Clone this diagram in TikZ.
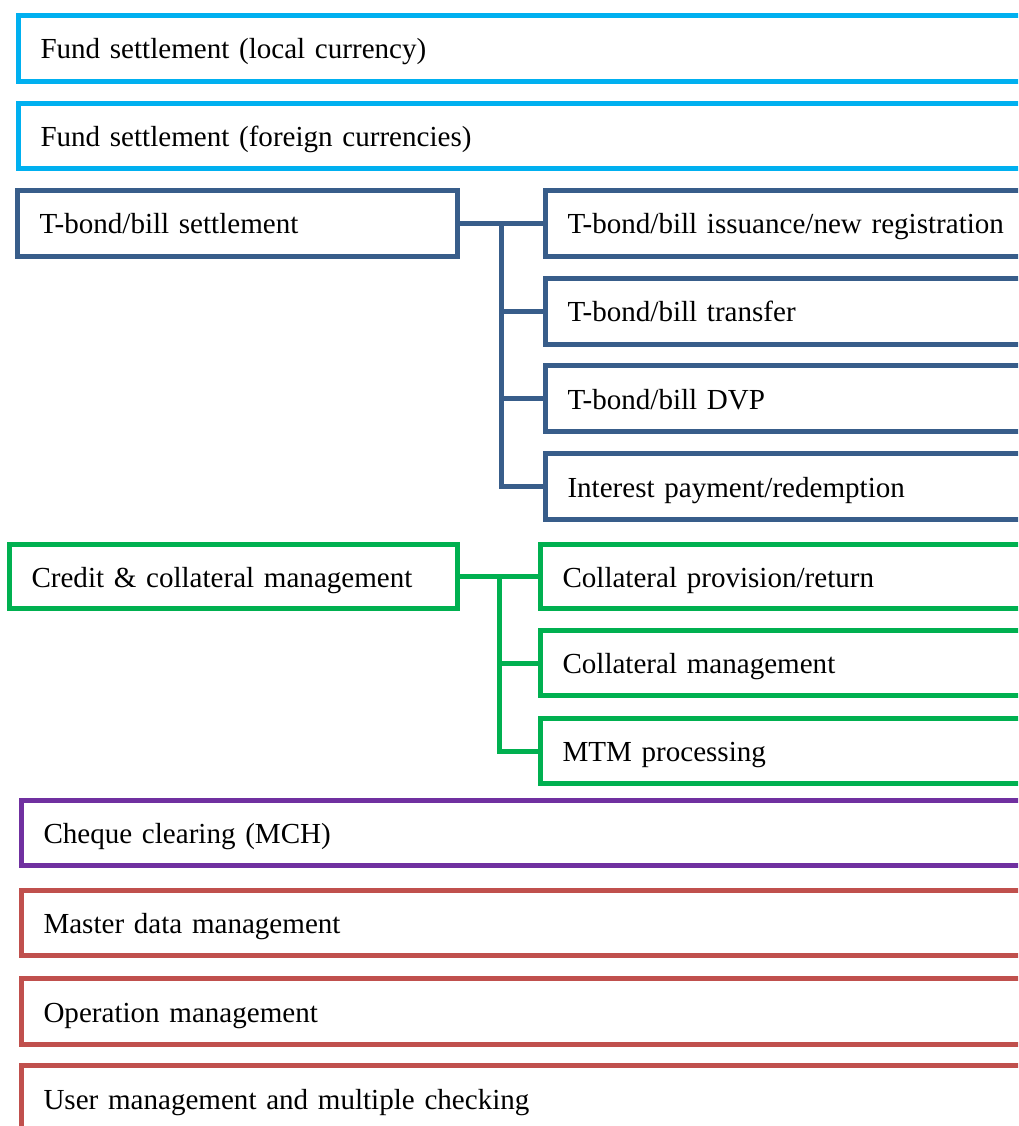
\documentclass[tikz,border=0pt]{standalone}
\usepackage{fontspec}
\setmainfont{Liberation Serif}
\definecolor{skyblue}{HTML}{00B0F0}
\definecolor{steelblue}{HTML}{385D8A}
\definecolor{leafgreen}{HTML}{00B050}
\definecolor{violet}{HTML}{7030A0}
\definecolor{brick}{HTML}{C0504D}
\begin{document}
\begin{tikzpicture}[x=0.75pt,y=-0.75pt,
  cell/.style={draw, rectangle, line width=3.75pt, outer sep=0pt,
    inner xsep=16.5pt, inner ysep=0pt, anchor=north west,
    text height=19.25pt, text depth=3.5pt, align=left,
    font=\fontsize{21.8pt}{26pt}\selectfont},
  wide/.style={cell, text width=733pt},
  link/.style={line width=3.75pt}]
\useasboundingbox (0,0) rectangle (1018,1126);
\clip (0,0) rectangle (1018,1126);

% fund settlement
\node[cell, skyblue, text=black, text width=733.1pt, minimum height=49.5pt] (fl) at (18.5,15.5) {Fund settlement (local currency)};
\node[cell, skyblue, text=black, text width=733.1pt, minimum height=48.75pt] (ff) at (18.5,103.5) {Fund settlement (foreign currencies)};

% T-bond/bill settlement group
\begin{scope}[every node/.append style={steelblue, text=black}]
\node[cell, text width=297pt, minimum height=49.5pt] (tb) at (17.5,190.5) {T-bond/bill settlement};
\node[cell, text width=337.9pt, minimum height=49.5pt] (tb1) at (545.5,190.5) {T-bond/bill issuance/new registration};
\node[cell, text width=337.9pt, minimum height=49.5pt] (tb2) at (545.5,278.5) {T-bond/bill transfer};
\node[cell, text width=337.9pt, minimum height=49.5pt] (tb3) at (545.5,365.5) {T-bond/bill DVP};
\node[cell, text width=337.9pt, minimum height=49.5pt] (tb4) at (545.5,453.5) {Interest payment/redemption};
\end{scope}
\coordinate (tbj) at (501.5,223.5);
\begin{scope}[link, steelblue]
\draw (tb.east) -- (tb1.west);
\draw (tbj) |- (tb2.west);
\draw (tbj) |- (tb3.west);
\draw (tbj) |- (tb4.west);
\end{scope}

% credit & collateral group
\begin{scope}[every node/.append style={leafgreen, text=black}]
\node[cell, text width=303pt, minimum height=48pt] (cc) at (9.5,544.5) {Credit \& collateral management};
\node[cell, text width=341.6pt, minimum height=48pt] (cc1) at (540.5,544.5) {Collateral provision/return};
\node[cell, text width=341.6pt, minimum height=48.75pt] (cc2) at (540.5,630.5) {Collateral management};
\node[cell, text width=341.6pt, minimum height=49.1pt] (cc3) at (540.5,718.5) {MTM processing};
\end{scope}
\coordinate (ccj) at (499.5,576.5);
\begin{scope}[link, leafgreen]
\draw (cc.east) -- (cc1.west);
\draw (ccj) |- (cc2.west);
\draw (ccj) |- (cc3.west);
\end{scope}

% cheque clearing
\node[cell, violet, text=black, text width=730.9pt, minimum height=48.75pt] (mch) at (21.5,800.5) {Cheque clearing (MCH)};

% management functions
\node[cell, brick, text=black, text width=730.9pt, minimum height=48.75pt] (md) at (21.5,890.5) {Master data management};
\node[cell, brick, text=black, text width=730.9pt, minimum height=49.5pt] (om) at (21.5,978.5) {Operation management};
\node[cell, brick, text=black, text width=730.9pt, minimum height=49.5pt] (um) at (21.5,1065.5) {User management and multiple checking};
\end{tikzpicture}
\end{document}
